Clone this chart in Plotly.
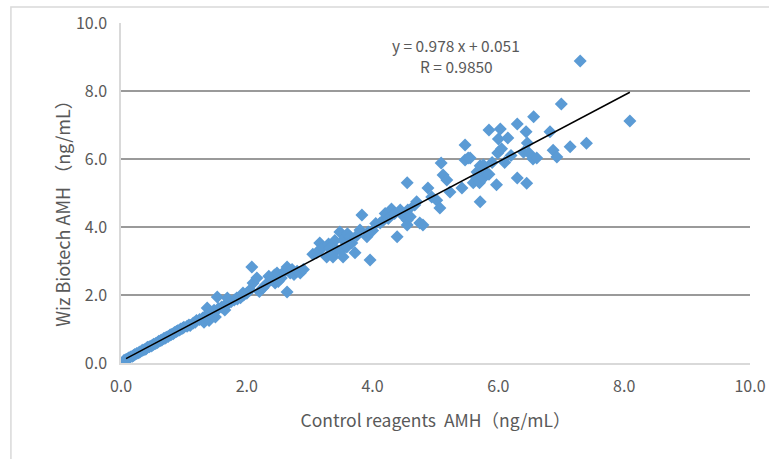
import plotly.graph_objects as go

# ------------------------------------------------------------------------------
# Data (ng/mL)

control_amh = [
    0.05, 0.08, 0.10, 0.12, 0.15, 0.18, 0.20, 0.22, 0.25, 0.28,
    0.30, 0.33, 0.35, 0.38, 0.40, 0.42, 0.45, 0.48, 0.50, 0.52,
    0.55, 0.58, 0.60, 0.63, 0.65, 0.68, 0.70, 0.72, 0.75, 0.78,
    0.80, 0.83, 0.85, 0.88, 0.90, 0.93, 0.95, 0.98, 1.00, 1.05,
    1.08, 1.10, 1.15, 1.18, 1.20, 1.25, 1.30, 1.32, 1.35, 1.38,
    1.40, 1.45, 1.48, 1.50, 1.55, 1.60, 1.65, 1.70, 1.75, 1.80,
    1.85, 1.90, 1.95, 2.00, 1.37, 1.42, 1.65, 1.53, 1.69, 1.84,
    1.94, 2.05, 2.08, 2.10, 2.16, 2.20, 2.26, 2.30, 2.35, 2.40,
    2.44, 2.45, 2.48, 2.50, 2.55, 2.60, 2.64, 2.64, 2.69, 2.72,
    2.75, 2.80, 2.85, 2.90, 3.05, 3.11, 3.15, 3.16, 3.20, 3.27,
    3.30, 3.32, 3.37, 3.40, 3.43, 3.48, 3.50, 3.53, 3.53, 3.59,
    3.60, 3.64, 3.67, 3.72, 3.75, 3.80, 3.83, 3.91, 3.93, 3.96,
    4.00, 4.05, 4.12, 4.17, 4.20, 4.23, 4.25, 4.30, 4.35, 4.39,
    4.44, 4.50, 4.55, 4.55, 4.55, 4.56, 4.60, 4.67, 4.70, 4.75,
    4.80, 4.88, 4.94, 5.02, 5.07, 5.09, 5.12, 5.18, 5.23, 5.42,
    5.47, 5.47, 5.52, 5.55, 5.60, 5.65, 5.66, 5.70, 5.71, 5.71,
    5.76, 5.76, 5.80, 5.85, 5.85, 5.90, 5.97, 5.99, 6.00, 6.03,
    6.05, 6.10, 6.15, 6.20, 6.30, 6.30, 6.40, 6.44, 6.45, 6.46,
    6.49, 6.55, 6.56, 6.61, 6.82, 6.87, 6.93, 7.00, 7.14, 7.30,
    7.40, 8.09,
]

wiz_amh = [
    0.08, 0.10, 0.12, 0.15, 0.18, 0.20, 0.22, 0.25, 0.28, 0.30,
    0.32, 0.36, 0.38, 0.40, 0.42, 0.46, 0.48, 0.50, 0.52, 0.55,
    0.57, 0.60, 0.64, 0.66, 0.68, 0.72, 0.73, 0.76, 0.78, 0.82,
    0.84, 0.86, 0.90, 0.93, 0.95, 0.97, 1.00, 1.02, 1.05, 1.08,
    1.12, 1.10, 1.18, 1.20, 1.25, 1.28, 1.32, 1.20, 1.38, 1.45,
    1.25, 1.50, 1.55, 1.35, 1.60, 1.65, 1.70, 1.75, 1.80, 1.85,
    1.88, 1.92, 2.00, 2.05, 1.62, 1.47, 1.56, 1.94, 1.91, 1.91,
    2.06, 2.15, 2.82, 2.35, 2.50, 2.10, 2.21, 2.30, 2.55, 2.45,
    2.59, 2.35, 2.65, 2.40, 2.50, 2.70, 2.82, 2.09, 2.65, 2.75,
    2.60, 2.70, 2.65, 2.75, 3.20, 3.24, 3.30, 3.53, 3.40, 3.12,
    3.50, 3.38, 3.12, 3.60, 3.32, 3.85, 3.30, 3.62, 3.12, 3.41,
    3.80, 3.71, 3.53, 3.24, 3.75, 3.91, 4.35, 3.71, 3.85, 3.03,
    3.90, 4.10, 4.12, 4.20, 4.40, 4.32, 4.25, 4.53, 4.40, 3.71,
    4.50, 4.30, 4.20, 4.06, 5.30, 4.50, 4.30, 4.65, 4.74, 4.12,
    4.06, 5.15, 4.88, 4.79, 4.56, 5.88, 5.53, 5.38, 5.03, 5.15,
    6.41, 5.97, 6.03, 6.03, 5.30, 5.45, 5.62, 5.30, 4.74, 5.80,
    5.82, 5.44, 5.60, 6.85, 5.55, 5.90, 5.24, 6.18, 6.59, 6.88,
    6.30, 5.90, 6.62, 6.10, 7.03, 5.44, 6.20, 6.80, 5.29, 6.47,
    6.17, 6.00, 7.24, 6.03, 6.80, 6.26, 6.06, 7.62, 6.36, 8.88,
    6.46, 7.12,
]

# Linear fit shown on the chart
SLOPE = 0.978
INTERCEPT = 0.051
R_VALUE = 0.9850

x_ticks = [0, 2, 4, 6, 8, 10]
y_ticks = [0, 2, 4, 6, 8, 10]

# ------------------------------------------------------------------------------

FONT = "Noto Sans CJK SC, Noto Sans, sans-serif"
TEXT_GREY = "#595959"

fig = go.Figure()

fig.add_trace(go.Scatter(
    x=control_amh, y=wiz_amh,
    mode="markers",
    marker=dict(symbol="diamond", size=10, color="#5B9BD5", line=dict(width=0)),
    showlegend=False))

# Trend line over the span of the data
x_fit = [min(control_amh) + 0.03, max(control_amh)]
y_fit = [SLOPE * v + INTERCEPT for v in x_fit]
fig.add_trace(go.Scatter(
    x=x_fit, y=y_fit,
    mode="lines",
    line=dict(color="black", width=1.5),
    showlegend=False))

# equation and R, two separate lines
fig.add_annotation(
    x=5.33, y=9.35, xref="x", yref="y",
    text="y = {} x + {}".format(SLOPE, INTERCEPT),
    showarrow=False, font=dict(family=FONT, size=15.5, color=TEXT_GREY))
fig.add_annotation(
    x=5.33, y=8.74, xref="x", yref="y",
    text="R = {:.4f}".format(R_VALUE),
    showarrow=False, font=dict(family=FONT, size=15.5, color=TEXT_GREY))

# y title as annotation: in the original it sits a bit below the plot centre
fig.add_annotation(
    x=-0.094, y=0.453, xref="paper", yref="paper",
    xanchor="center", yanchor="middle",
    text="Wiz Biotech AMH （ng/mL）", textangle=-90,
    showarrow=False, font=dict(family=FONT, size=18, color=TEXT_GREY))

# light outer chart border
fig.add_shape(type="rect", xref="paper", yref="paper",
    x0=-0.175, x1=1.05, y0=-0.35, y1=1.047,
    line=dict(color="#d9d9d9", width=1.5), layer="below")

fig.update_xaxes(
    range=[0, 10], tickvals=x_ticks,
    ticktext=["{:.1f}".format(v) for v in x_ticks],
    showgrid=False, zeroline=False, automargin=False,
    showline=True, linecolor="#d9d9d9", linewidth=1.5,
    ticks="", ticklabelstandoff=8,
    tickfont=dict(family=FONT, size=16, color=TEXT_GREY),
    title=dict(text="Control reagents  AMH（ng/mL）", standoff=19,
               font=dict(family=FONT, size=17.5, color=TEXT_GREY)))

fig.update_yaxes(
    range=[0, 10], tickvals=y_ticks,
    ticktext=["{:.1f}".format(v) for v in y_ticks],
    showgrid=True, gridcolor="#9a9a9a", gridwidth=1.5, zeroline=False,
    automargin=False,
    showline=True, linecolor="#d9d9d9", linewidth=1.5,
    ticks="", ticklabelstandoff=9,
    tickfont=dict(family=FONT, size=16, color=TEXT_GREY))

fig.update_layout(
    width=769, height=459,
    margin=dict(l=121, r=19, t=23, b=96),
    plot_bgcolor="white", paper_bgcolor="white")

# drop the default 8px page margin so the figure fills the window
fig.write_html("out.html",
               config={"displayModeBar": False},
               post_script="document.body.style.margin='0px';"
                           "document.body.style.overflow='hidden';")
